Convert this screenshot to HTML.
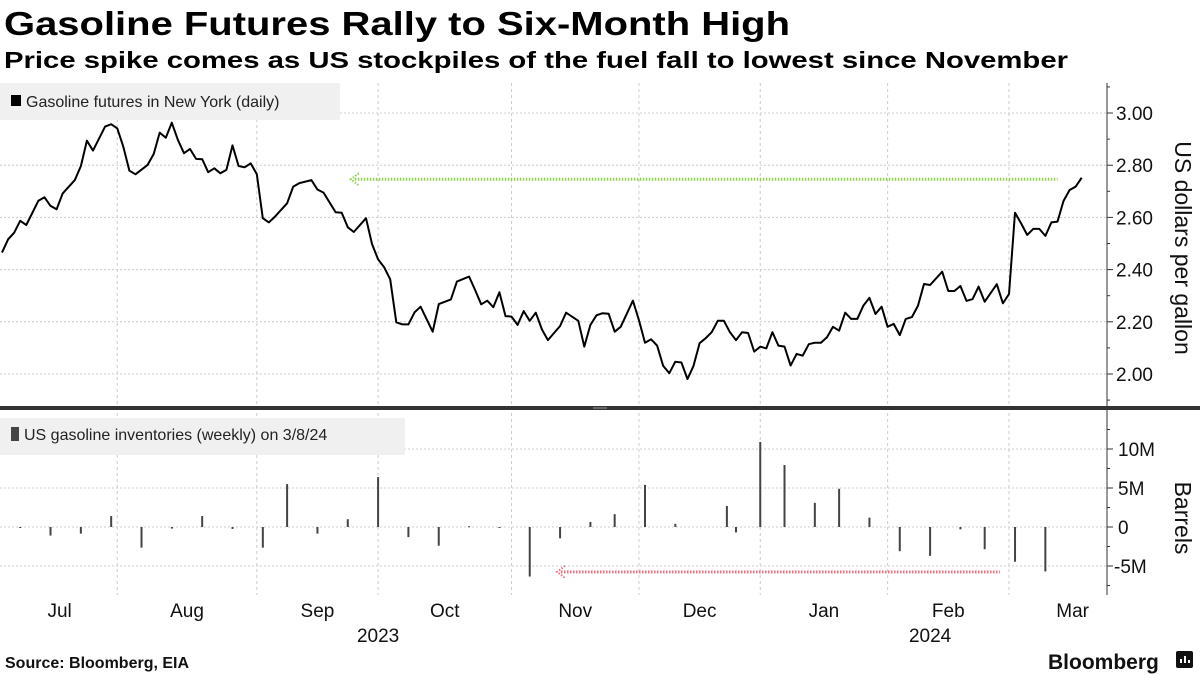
<!DOCTYPE html>
<html><head><meta charset="utf-8"><style>
html,body{margin:0;padding:0;background:#fff;}
svg{display:block;font-family:"Liberation Sans","DejaVu Sans",sans-serif;}
</style></head><body>
<svg id="chart" width="1200" height="675" viewBox="0 0 1200 675" xmlns="http://www.w3.org/2000/svg">
<text x="4" y="35" font-size="33" font-weight="bold" textLength="786" lengthAdjust="spacingAndGlyphs">Gasoline Futures Rally to Six-Month High</text>
<text x="4" y="68" font-size="23" font-weight="bold" textLength="1064" lengthAdjust="spacingAndGlyphs">Price spike comes as US stockpiles of the fuel fall to lowest since November</text>
<g id="grid"></g>
<rect x="0" y="83" width="340" height="37" fill="#f0f0f0"/>
<rect x="11" y="95" width="10" height="11" fill="#000"/>
<text x="26" y="107" font-size="16" fill="#222">Gasoline futures in New York (daily)</text>
<rect x="0" y="418" width="405" height="37" fill="#f0f0f0"/>
<rect x="11" y="427" width="8" height="14" fill="#444"/>
<text x="24" y="440" font-size="16" fill="#222">US gasoline inventories (weekly) on 3/8/24</text>
<g id="marks"></g>
<g id="axes"></g>
<rect x="0" y="406" width="1200" height="4" fill="#333"/>
<line x1="593" y1="408" x2="607" y2="408" stroke="#999" stroke-width="1"/>
<text transform="translate(1175,248) rotate(90)" text-anchor="middle" font-size="23" fill="#111">US dollars per gallon</text>
<text transform="translate(1175,518) rotate(90)" text-anchor="middle" font-size="23" fill="#111">Barrels</text>
<text x="5" y="668" font-size="16" font-weight="bold" fill="#111">Source: Bloomberg, EIA</text>
<text x="1048" y="669" font-size="21" font-weight="bold" fill="#111">Bloomberg</text>
<rect x="1176" y="651" width="17" height="17" rx="2" fill="#111"/>
</svg>
<script>
const priceDays=[0,1,2,3,4,6,7,8,9,10,12,13,14,15,17,18,19,20,21,22,24,25,26,27,28,29,30,31,32,33,34,35,36,37,38,39,40,41,42,43,44,45,47,48,49,51,52,53,55,56,57,58,60,61,62,63,64,65,66,67,68,69,71,72,74,75,77,78,79,80,81,82,83,84,85,86,87,88,89,90,92,93,95,96,97,98,99,100,101,102,104,105,106,107,108,109,110,111,112,113,114,115,116,117,118,119,120,121,122,123,124,125,126,127,128,129,130,131,132,133,134,135,136,137,138,139,140,141,142,143,144,145,146,147,148,149,150,151,152,153,155,156,157,158,159,160,161,162,164,165,166,167,168,169,170,171,172,173,174,175,176,177,178];
const priceValues=[2.465,2.516,2.541,2.587,2.571,2.664,2.677,2.644,2.631,2.692,2.743,2.797,2.894,2.856,2.948,2.957,2.941,2.871,2.779,2.765,2.801,2.843,2.925,2.905,2.963,2.897,2.846,2.862,2.824,2.823,2.773,2.788,2.769,2.782,2.876,2.797,2.792,2.807,2.766,2.597,2.581,2.603,2.654,2.718,2.731,2.743,2.707,2.695,2.620,2.618,2.562,2.544,2.597,2.498,2.439,2.409,2.363,2.198,2.190,2.190,2.236,2.258,2.162,2.268,2.286,2.354,2.373,2.322,2.267,2.281,2.256,2.313,2.222,2.220,2.188,2.241,2.204,2.235,2.171,2.130,2.184,2.235,2.204,2.105,2.188,2.225,2.233,2.231,2.162,2.181,2.281,2.207,2.120,2.133,2.109,2.031,2.003,2.047,2.044,1.981,2.031,2.118,2.137,2.160,2.204,2.204,2.160,2.130,2.160,2.157,2.086,2.105,2.098,2.160,2.109,2.105,2.032,2.077,2.070,2.114,2.120,2.120,2.141,2.181,2.166,2.235,2.211,2.211,2.262,2.292,2.230,2.258,2.181,2.192,2.149,2.211,2.218,2.262,2.345,2.341,2.392,2.318,2.318,2.337,2.280,2.287,2.335,2.277,2.344,2.271,2.306,2.618,2.577,2.533,2.556,2.556,2.529,2.581,2.584,2.663,2.705,2.718,2.752];
const invDays=[3,8,13,18,23,28,33,38,43,47,52,57,62,67,72,77,82,87,92,97,101,106,111,119.5,121,125,129,134,138,143,148,153,158,162,167,172];
const invValues=[-0.1,-1.1,-0.85,1.4,-2.65,-0.2,1.4,-0.25,-2.65,5.5,-0.85,1.0,6.4,-1.3,-2.4,0.1,-0.1,-6.35,-1.45,0.65,1.65,5.4,0.4,2.7,-0.7,10.9,7.95,3.1,4.9,1.2,-3.1,-3.7,-0.3,-2.85,-4.45,-5.7];
const monthLabels=["Jul","Aug","Sep","Oct","Nov","Dec","Jan","Feb","Mar"];
const monthStarts=[0,19,42,62,84,105,125,146,166,179];
const yearLabels=["2023","2024"];
const yearDays=[62,153];
const priceTicks=[2.0,2.2,2.4,2.6,2.8,3.0];
const priceTickLabels=["2.00","2.20","2.40","2.60","2.80","3.00"];
const invTicks=[-5,0,5,10];
const invTickLabels=["-5M","0","5M","10M"];
const highLevel=2.746, highFromDay=57.5, highToDay=174;
const lowLevel=-5.75, lowFromDay=91.5, lowToDay=164.5;

const NS="http://www.w3.org/2000/svg";
const xS=d=>2+d*6.066;
const yP=v=>374-(v-2)*261;
const yI=v=>527-v*7.8;
function mk(tag,attrs,parent){const e=document.createElementNS(NS,tag);for(const k in attrs)e.setAttribute(k,attrs[k]);parent.appendChild(e);return e;}
const grid=document.getElementById('grid'),marks=document.getElementById('marks'),axes=document.getElementById('axes');
const AX=1107;
// vertical grid
monthStarts.slice(1,9).forEach(d=>{
  const l=mk('line',{x1:xS(d),x2:xS(d),y1:83,y2:595,stroke:'#ccc','stroke-dasharray':'3,3'},grid);
  
  
});
priceTicks.forEach((v,i)=>{
  const l=mk('line',{x1:0,x2:AX,y1:yP(v),y2:yP(v),stroke:'#ccc','stroke-dasharray':'2,2'},grid);
  
  
  const t=mk('line',{x1:AX,x2:AX+6,y1:yP(v),y2:yP(v),stroke:'#333'},axes);
  
  
  const tx=mk('text',{x:AX+9,y:yP(v)+7,'font-size':19,fill:'#111'},axes);
  tx.textContent=priceTickLabels[i];
  
  
});
[1.9,2.1,2.3,2.5,2.7,2.9,3.1].forEach(v=>{
  const t=mk('line',{x1:AX,x2:AX+3,y1:yP(v),y2:yP(v),stroke:'#333'},axes);
  
  
});
invTicks.forEach((v,i)=>{
  const l=mk('line',{x1:0,x2:AX,y1:yI(v),y2:yI(v),stroke:'#ccc','stroke-dasharray':'2,2'},grid);
  
  
  const t=mk('line',{x1:AX,x2:AX+6,y1:yI(v),y2:yI(v),stroke:'#333'},axes);
  
  
  const tx=mk('text',{x:AX+(v<0?7:11),y:yI(v)+7,'font-size':19,fill:'#111'},axes);
  tx.textContent=invTickLabels[i];
  
  
});
[-7.5,-2.5,2.5,7.5,12.5].forEach(v=>{
  const t=mk('line',{x1:AX,x2:AX+3,y1:yI(v),y2:yI(v),stroke:'#333'},axes);
  
  
});
let a1=mk('line',{x1:AX,x2:AX,y1:83,y2:406,stroke:'#333'},axes);


let a2=mk('line',{x1:AX,x2:AX,y1:410,y2:595,stroke:'#333'},axes);


// month labels
monthLabels.forEach((m,i)=>{
  const mid=i===8?176.5:(monthStarts[i]+monthStarts[i+1])/2;
  const t=mk('text',{x:xS(mid),y:617,'font-size':19,'text-anchor':'middle',fill:'#111'},axes);
  t.textContent=m;
  
  
});
yearLabels.forEach((y,i)=>{
  const t=mk('text',{x:xS(yearDays[i]),y:642,'font-size':19,'text-anchor':'middle',fill:'#111'},axes);
  t.textContent=y;
  
  
});
// annotations
const hy=yP(highLevel);
let g1=mk('line',{x1:xS(highFromDay)+4,x2:xS(highToDay),y1:hy,y2:hy,stroke:'#8fd14f','stroke-width':3,'stroke-dasharray':'1.5,1.5'},marks);


let g2=mk('path',{d:`M${xS(highFromDay)+8},${hy-6} L${xS(highFromDay)},${hy} L${xS(highFromDay)+8},${hy+6}`,fill:'none',stroke:'#8fd14f','stroke-width':2,'stroke-dasharray':'1.5,1.5'},marks);


const ly=yI(lowLevel);
let r1=mk('line',{x1:xS(lowFromDay)+4,x2:xS(lowToDay),y1:ly,y2:ly,stroke:'#f07080','stroke-width':3,'stroke-dasharray':'1.5,1.5'},marks);


let r2=mk('path',{d:`M${xS(lowFromDay)+8},${ly-6} L${xS(lowFromDay)},${ly} L${xS(lowFromDay)+8},${ly+6}`,fill:'none',stroke:'#f07080','stroke-width':2,'stroke-dasharray':'1.5,1.5'},marks);


// price line
const pts=priceDays.map((d,i)=>xS(d).toFixed(1)+','+yP(priceValues[i]).toFixed(1)).join(' ');
const pl=mk('polyline',{points:pts,fill:'none',stroke:'#000','stroke-width':2,'stroke-linejoin':'round'},marks);


// bars
invDays.forEach((d,i)=>{
  const v=invValues[i];
  const y0=yI(0),y1=yI(v);
  const b=mk('rect',{x:xS(d)-1,y:Math.min(y0,y1),width:2,height:Math.max(1,Math.abs(y1-y0)),fill:'#444'},marks);
  
  
});
// logo icon bars
[[1180,659,4],[1184,656,7],[1188,660,3]].forEach(a=>{
  const r=mk('rect',{x:a[0],y:a[1],width:2,height:a[2],fill:'#fff'},document.getElementById('chart'));
  
  
});
</script>
</body></html>
